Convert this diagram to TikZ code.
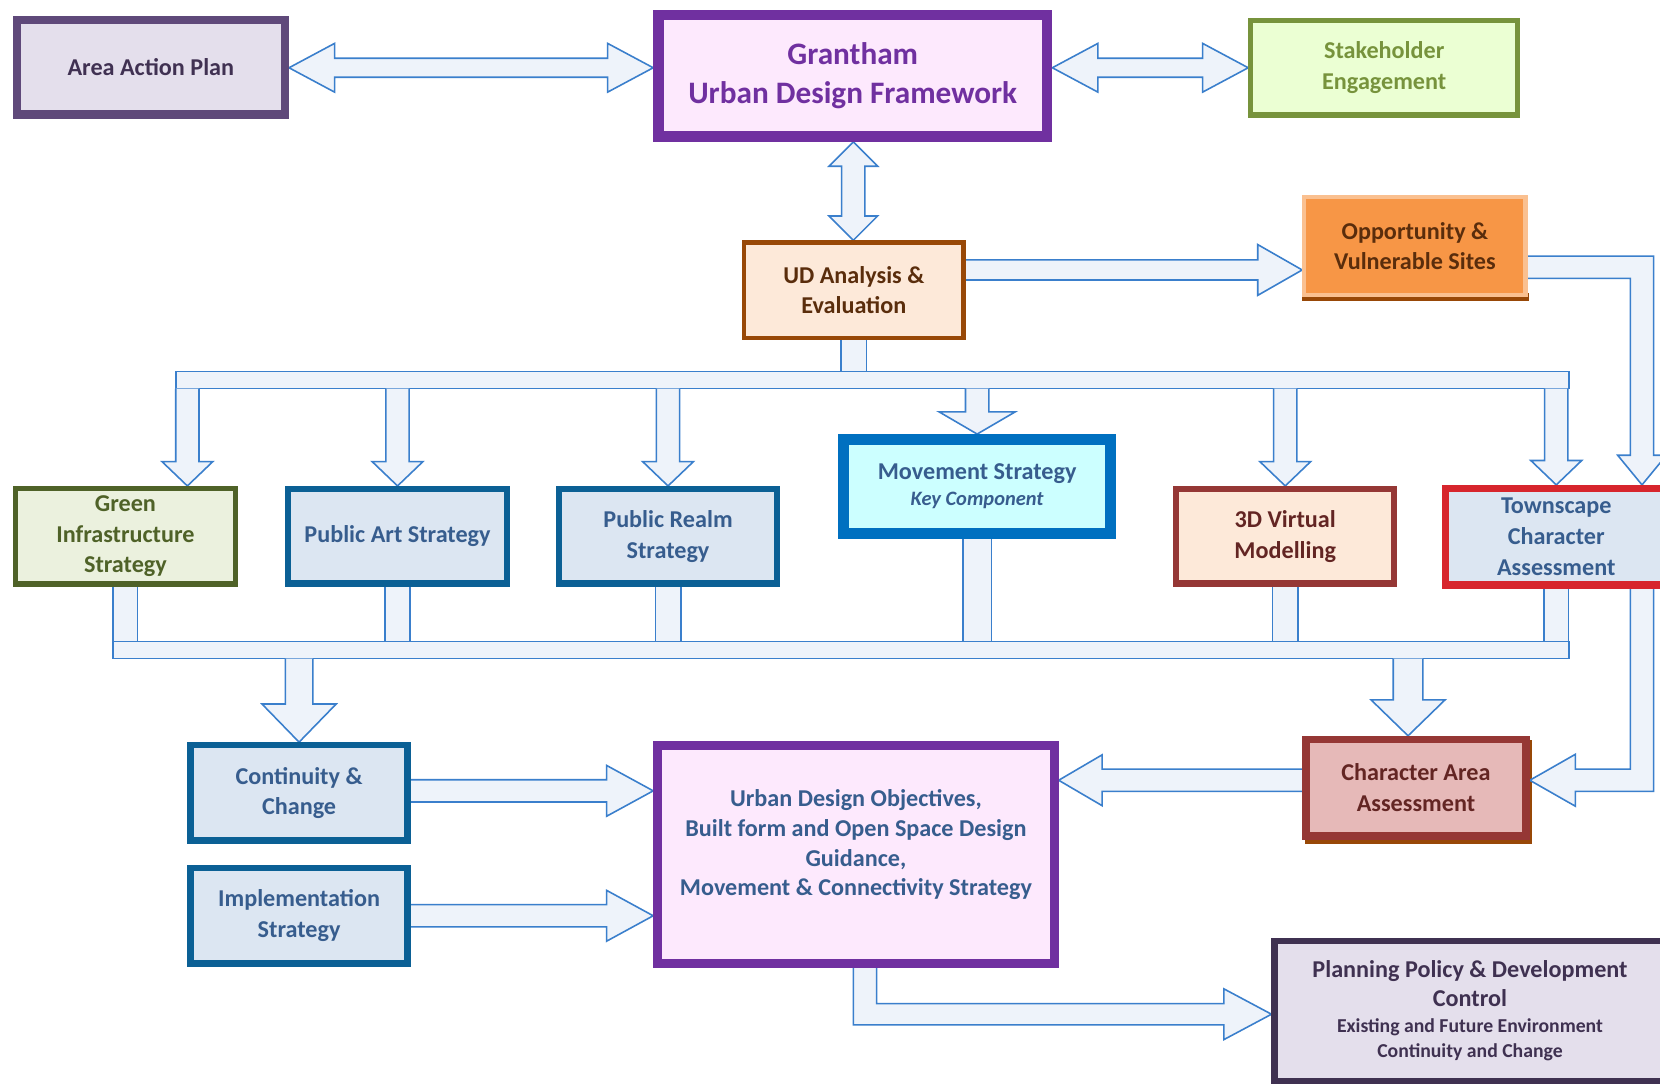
\documentclass[tikz,border=0pt]{standalone}
\usepackage{fontspec}
\setmainfont{Carlito}
\usetikzlibrary{calc}
\pgfdeclarelayer{bg}
\pgfsetlayers{bg,main}

\definecolor{arrline}{HTML}{3A7FCC}
\definecolor{arrfill}{HTML}{EEF3FA}
\definecolor{aapB}{HTML}{5F497A}
\definecolor{aapF}{HTML}{E4DFEC}
\definecolor{aapT}{HTML}{403152}
\definecolor{purB}{HTML}{7030A0}
\definecolor{purF}{HTML}{FDE9FD}
\definecolor{grnB}{HTML}{77933C}
\definecolor{grnF}{HTML}{EBFFD3}
\definecolor{brnB}{HTML}{984807}
\definecolor{brnF}{HTML}{FDE9D9}
\definecolor{brnT}{HTML}{5A2D0C}
\definecolor{orF}{HTML}{F79646}
\definecolor{orB}{HTML}{FAC090}
\definecolor{oliB}{HTML}{4F6228}
\definecolor{oliF}{HTML}{EBF1DE}
\definecolor{stB}{HTML}{0B6095}
\definecolor{stF}{HTML}{DCE6F2}
\definecolor{stT}{HTML}{375D8E}
\definecolor{mvB}{HTML}{0070C0}
\definecolor{mvF}{HTML}{CCFFFF}
\definecolor{redB}{HTML}{953735}
\definecolor{redT}{HTML}{632523}
\definecolor{caaF}{HTML}{E6B9B8}
\definecolor{tcB}{HTML}{D7252D}
\definecolor{ppB}{HTML}{3F3151}

% box: name, style, x1, y1, x2, y2, line width, text
\newcommand\mkbox[8]{\node[boxbase,#2,line width=#7*0.02cm,minimum width={(#5-#3-#7)*0.02cm},minimum height={(#6-#4-#7)*0.02cm}] (#1) at ({(#3+#5)/2},{(#4+#6)/2}) {#8};}
% block arrows: tail/tip, half shaft, half head, head length
\newcommand\arrR[5]{\draw[barrow] ($(#1)+(0,-#3)$) -- ($(#2)+(-#5,-#3)$) -- ($(#2)+(-#5,-#4)$) -- (#2) -- ($(#2)+(-#5,#4)$) -- ($(#2)+(-#5,#3)$) -- ($(#1)+(0,#3)$);}
\newcommand\arrL[5]{\draw[barrow] ($(#1)+(0,-#3)$) -- ($(#2)+(#5,-#3)$) -- ($(#2)+(#5,-#4)$) -- (#2) -- ($(#2)+(#5,#4)$) -- ($(#2)+(#5,#3)$) -- ($(#1)+(0,#3)$);}
\newcommand\arrD[5]{\draw[barrow] ($(#1)+(-#3,0)$) -- ($(#2)+(-#3,-#5)$) -- ($(#2)+(-#4,-#5)$) -- (#2) -- ($(#2)+(#4,-#5)$) -- ($(#2)+(#3,-#5)$) -- ($(#1)+(#3,0)$);}
\newcommand\arrLR[5]{\draw[barrow] (#1) -- ($(#1)+(#5,-#4)$) -- ($(#1)+(#5,-#3)$) -- ($(#2)+(-#5,-#3)$) -- ($(#2)+(-#5,-#4)$) -- (#2) -- ($(#2)+(-#5,#4)$) -- ($(#2)+(-#5,#3)$) -- ($(#1)+(#5,#3)$) -- ($(#1)+(#5,#4)$) -- cycle;}
\newcommand\arrUD[5]{\draw[barrow] (#1) -- ($(#1)+(-#4,#5)$) -- ($(#1)+(-#3,#5)$) -- ($(#2)+(-#3,-#5)$) -- ($(#2)+(-#4,-#5)$) -- (#2) -- ($(#2)+(#4,-#5)$) -- ($(#2)+(#3,-#5)$) -- ($(#1)+(#3,#5)$) -- ($(#1)+(#4,#5)$) -- cycle;}
\newcommand\stub[3]{\draw[barrow] ($(#1)+(-#3,0)$) -- ($(#2)+(-#3,0)$) -- ($(#2)+(#3,0)$) -- ($(#1)+(#3,0)$);}

\begin{document}
\begin{tikzpicture}[x=0.02cm,y=-0.02cm,
  barrow/.style={draw=arrline,fill=arrfill,line width=0.85pt,line join=miter},
  boxbase/.style={draw,align=center,inner sep=0pt,font=\bfseries\fontsize{13}{16.5}\selectfont},
  bluebox/.style={draw=stB,fill=stF,text=stT},
  txt/.style={align=center,inner sep=0pt,font=\bfseries\fontsize{13}{15.9}\selectfont}]
\useasboundingbox (0,0) rectangle (1568,1025);
\begin{pgfonlayer}{bg}
\fill[white] (0,0) rectangle (1568,1025);
\end{pgfonlayer}

% ---------- boxes ----------
\mkbox{aap}{draw=aapB,fill=aapF,text=aapT}{12}{15}{273}{112}{8}{Area Action Plan}
\mkbox{gr}{draw=purB,fill=purF,text=purB,font=\bfseries\fontsize{16.8}{20.5}\selectfont}{617}{9}{994}{134}{10}{Grantham\\Urban Design Framework}
\mkbox{sh}{draw=grnB,fill=grnF,text=grnB}{1179}{17}{1436}{111}{5}{Stakeholder\\Engagement}
\mkbox{ud}{draw=brnB,fill=brnF,text=brnT}{701}{227}{912}{321}{4}{UD Analysis \&\\Evaluation}
\mkbox{opp}{draw=orB,fill=orF,text=brnT}{1230}{184}{1443}{281}{4}{Opportunity \&\\Vulnerable Sites}
\mkbox{gi}{draw=oliB,fill=oliF,text=oliB}{12}{459}{225}{554}{5}{Green\\Infrastructure\\Strategy}
\mkbox{pa}{bluebox}{269}{459}{482}{554}{6}{Public Art Strategy}
\mkbox{pr}{bluebox}{525}{459}{737}{554}{6}{Public Realm\\Strategy}
\mkbox{mv}{draw=mvB,fill=mvF,text=stT}{792}{410}{1054}{509}{10}{Movement Strategy\\[-2.5pt]{\itshape\fontsize{11}{14.8}\selectfont Key Component}}
\mkbox{vm}{draw=redB,fill=brnF,text=redT}{1108}{459}{1320}{554}{6}{3D Virtual\\Modelling}
\mkbox{tc}{draw=tcB,fill=stF,text=stT}{1362}{458}{1578}{556}{7}{Townscape\\Character\\Assessment}
\mkbox{cc}{bluebox}{177}{701}{388}{797}{6}{Continuity \&\\Change}
\mkbox{im}{bluebox}{177}{817}{388}{913}{6}{Implementation\\Strategy}
\mkbox{udo}{draw=purB,fill=purF}{617}{700}{1000}{914}{8}{}
\node[txt,text=stT] (udot) at (808.5,798) {Urban Design Objectives,\\Built form and Open Space Design\\Guidance,\\Movement \& Connectivity Strategy};
\mkbox{caa}{draw=redB,fill=caaF,text=redT}{1230}{695}{1445}{793}{7}{Character Area\\Assessment}
\mkbox{pp}{draw=ppB,fill=aapF}{1201}{886}{1576}{1024}{6}{}
\node[txt,text=ppB,font=\bfseries\fontsize{13}{15.4}\selectfont] (ppt1) at (1388.5,929) {Planning Policy \& Development\\Control};
\node[txt,text=ppB,font=\bfseries\fontsize{10.6}{13.1}\selectfont] (ppt2) at (1388.5,982) {Existing and Future Environment\\Continuity and Change};

% ---------- coordinates ----------
\coordinate (c1a) at (aap.east |- 0,64);
\coordinate (c1b) at (gr.west |- 0,64);
\coordinate (c2a) at (gr.east |- 0,64);
\coordinate (c2b) at (sh.west |- 0,64);
\coordinate (c3a) at (806,0 |- gr.south);
\coordinate (c3b) at (806,0 |- ud.north);
\coordinate (c4a) at (ud.east |- 0,255);
\coordinate (c4b) at (opp.west |- 0,255);
\coordinate (busA) at (166,351);
\coordinate (busB) at (1482,367);
\coordinate (busBot) at (0,367);
\coordinate (lbA) at (107,606);
\coordinate (lbB) at (1482,622);
\coordinate (lbTop) at (0,606);
\coordinate (lbBot) at (0,622);
\coordinate (gA) at (177,367);
\coordinate (d2) at (1330,622);
\coordinate (h1a) at (cc.east |- 0,747);
\coordinate (h1b) at (udo.west |- 0,747);
\coordinate (h2a) at (im.east |- 0,865);
\coordinate (h2b) at (udo.west |- 0,865);
\coordinate (l1a) at (caa.west |- 0,737);
\coordinate (l1b) at (udo.east |- 0,737);
\coordinate (e1) at (opp.east |- 0,252.5);
\coordinate (e2) at (1551,0 |- tc.north);
\coordinate (f1) at (1551,0 |- tc.south);
\coordinate (f2) at (caa.east |- 0,737);
\coordinate (g1) at (817,0 |- udo.south);
\coordinate (g2) at (pp.west |- 0,958);

% ---------- connectors ----------
\begin{pgfonlayer}{bg}
\fill[brnB] ($(opp.south west)+(0,-4)$) rectangle ($(opp.south east)+(1,3)$);
\fill[brnB] ($(caa.north west)+(3,4)$) rectangle ($(caa.south east)+(2,4)$);

\arrLR{c1a}{c1b}{9}{23}{43}
\arrLR{c2a}{c2b}{9}{23}{43}
\arrUD{c3a}{c3b}{11}{23}{23}
\arrR{c4a}{c4b}{9.5}{24}{42}

\stub{ud.south}{ud.south |- busA}{12}
\draw[barrow] (busA) rectangle (busB);
\arrD{gA}{gA |- gi.north}{11}{24}{23}
\arrD{pa.north |- busBot}{pa.north}{11}{24}{23}
\arrD{pr.north |- busBot}{pr.north}{11}{24}{23}
\arrD{mv.north |- busBot}{mv.north}{11}{36}{21}
\arrD{vm.north |- busBot}{vm.north}{11}{24}{23}
\arrD{tc.north |- busBot}{tc.north}{11}{24}{23}

% Opportunity -> Townscape
\draw[barrow] ($(e1)+(0,-10.5)$) -- ($(e2 |- e1)+(11,-10.5)$) -- ($(e2)+(11,-28)$) -- ($(e2)+(23,-28)$) -- (e2) -- ($(e2)+(-23,-28)$) -- ($(e2)+(-11,-28)$) -- ($(e2 |- e1)+(-11,10.5)$) -- ($(e1)+(0,10.5)$);

\stub{gi.south}{gi.south |- lbTop}{11.5}
\stub{pa.south}{pa.south |- lbTop}{12}
\stub{pr.south}{pr.south |- lbTop}{12}
\stub{mv.south}{mv.south |- lbTop}{13.5}
\stub{vm.south}{vm.south |- lbTop}{12}
\stub{tc.south}{tc.south |- lbTop}{11.5}
\draw[barrow] (lbA) rectangle (lbB);

\arrD{cc.north |- lbBot}{cc.north}{13}{35}{36}
\arrD{d2}{d2 |- caa.north}{14}{35}{34}

\arrR{h1a}{h1b}{10.5}{24}{44}
\arrR{h2a}{h2b}{10.5}{24}{44}
\arrL{l1a}{l1b}{10.5}{24}{41}

% Townscape -> Character Area Assessment
\draw[barrow] ($(f1)+(-11,0)$) -- ($(f1 |- f2)+(-11,-10.5)$) -- ($(f2)+(43,-10.5)$) -- ($(f2)+(43,-24.5)$) -- (f2) -- ($(f2)+(43,24.5)$) -- ($(f2)+(43,10.5)$) -- ($(f1 |- f2)+(11,10.5)$) -- ($(f1)+(11,0)$);

% UDO -> Planning Policy
\draw[barrow] ($(g1)+(11,0)$) -- ($(g1 |- g2)+(11,-10)$) -- ($(g2)+(-45,-10)$) -- ($(g2)+(-45,-24)$) -- (g2) -- ($(g2)+(-45,24)$) -- ($(g2)+(-45,10)$) -- ($(g1 |- g2)+(-11,10)$) -- ($(g1)+(-11,0)$);
\end{pgfonlayer}
\end{tikzpicture}
\end{document}
